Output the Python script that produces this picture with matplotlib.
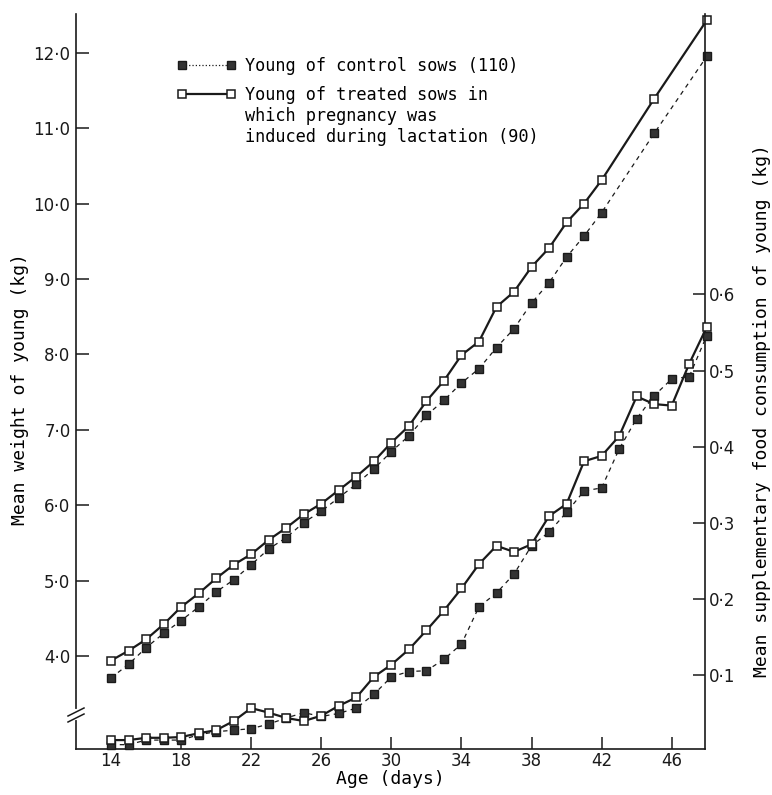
import matplotlib
matplotlib.use("Agg")
import matplotlib.pyplot as plt
from matplotlib.lines import Line2D

plt.rcParams['font.family'] = ['DejaVu Sans']

# ---- data ----
weight_days = list(range(14, 43)) + [45, 48]
weight_control = [3.71, 3.89, 4.11, 4.30, 4.47, 4.65, 4.85, 5.01, 5.21, 5.42,
                  5.57, 5.77, 5.92, 6.10, 6.28, 6.48, 6.71, 6.92, 7.19, 7.39,
                  7.62, 7.81, 8.09, 8.34, 8.68, 8.95, 9.29, 9.57, 9.88, 10.93, 11.95]
weight_treated = [3.94, 4.07, 4.22, 4.42, 4.65, 4.83, 5.03, 5.21, 5.35, 5.54,
                  5.70, 5.88, 6.02, 6.20, 6.38, 6.58, 6.83, 7.05, 7.38, 7.65,
                  7.99, 8.17, 8.63, 8.83, 9.16, 9.41, 9.75, 10.00, 10.31, 11.39, 12.43]

food_days = list(range(14, 49))
food_control = [0.009, 0.009, 0.015, 0.015, 0.015, 0.022, 0.026, 0.028, 0.030, 0.036,
                0.044, 0.051, 0.046, 0.050, 0.057, 0.075, 0.098, 0.105, 0.106, 0.121,
                0.141, 0.190, 0.208, 0.233, 0.270, 0.288, 0.314, 0.342, 0.346, 0.397,
                0.437, 0.467, 0.489, 0.492, 0.546]
food_treated = [0.015, 0.015, 0.018, 0.018, 0.019, 0.024, 0.028, 0.040, 0.057, 0.051,
                0.044, 0.040, 0.047, 0.060, 0.071, 0.098, 0.114, 0.134, 0.159, 0.185,
                0.214, 0.246, 0.270, 0.262, 0.272, 0.309, 0.325, 0.381, 0.388, 0.414,
                0.466, 0.456, 0.454, 0.509, 0.557]

x_ticks = [14, 18, 22, 26, 30, 34, 38, 42, 46]
left_ticks = [4, 5, 6, 7, 8, 9, 10, 11, 12]
left_ticklabels = ['4·0', '5·0', '6·0', '7·0', '8·0', '9·0', '10·0', '11·0', '12·0']
right_ticks = [0.1, 0.2, 0.3, 0.4, 0.5, 0.6]
right_ticklabels = ['0·1', '0·2', '0·3', '0·4', '0·5', '0·6']

label_control = 'Young of control sows (110)'
label_treated = ['Young of treated sows in', 'which pregnancy was',
                 'induced during lactation (90)']

# ---- figure ----
W, H = 772, 795
fig = plt.figure(figsize=(W / 100, H / 100), dpi=100)
fig.patch.set_facecolor('white')
ax = fig.add_axes([76 / W, 1 - 749 / H, (705 - 76) / W, (749 - 14) / H])
ax2 = ax.twinx()

FS = 12
LFS = 13
MONO = 'DejaVu Sans Mono'
ink = '#1a1a1a'
fill = '#333333'

ctrl_style = dict(color=ink, lw=0.9, linestyle=(0, (3.5, 3.5)), marker='s', ms=6,
                  mfc=fill, mec=ink, mew=1.0, clip_on=False, zorder=3)
trt_style = dict(color=ink, lw=1.6, linestyle='-', marker='s', ms=6.3,
                 mfc='white', mec=ink, mew=1.1, clip_on=False, zorder=4)

ax.plot(weight_days, weight_control, **ctrl_style)
ax.plot(weight_days, weight_treated, **trt_style)
ax2.plot(food_days, food_control, **ctrl_style)
ax2.plot(food_days, food_treated, **trt_style)

ax.set_xlim(12, 47.9)
ax.set_ylim(2.767, 12.513)
ax2.set_ylim(0.0033, 0.968)

ax.set_xticks(x_ticks)
ax.set_xticklabels([str(t) for t in x_ticks])
ax.set_yticks(left_ticks)
ax.set_yticklabels(left_ticklabels)
ax2.set_yticks(right_ticks)
ax2.set_yticklabels(right_ticklabels)

for a in (ax, ax2):
    a.spines['top'].set_visible(False)
    for s in a.spines.values():
        s.set_linewidth(1.2)
        s.set_color(ink)
    a.tick_params(direction='in', length=9, width=1.1, colors=ink, labelsize=FS)
ax.spines['right'].set_visible(False)
ax2.spines['left'].set_visible(False)
ax2.spines['bottom'].set_visible(False)
ax.tick_params(axis='y', pad=4)
ax.tick_params(axis='x', pad=2)
ax2.tick_params(axis='y', pad=3)

ax.set_xlabel('Age (days)', fontsize=LFS, family=MONO)
ax.xaxis.set_label_coords(0.5, -0.029)
ax.set_ylabel('Mean weight of young (kg)', fontsize=LFS, family=MONO)
ax.yaxis.set_label_coords(-0.074, 0.49)
ax2.set_ylabel('Mean supplementary food consumption of young (kg)', fontsize=LFS,
               family=MONO)
ax2.yaxis.set_label_coords(1.076, 0.461)

# ---- axis break marks on the left spine ----
def px(x, y):
    return x / W, 1 - y / H

fig.add_artist(Line2D(*zip(px(76, 711), px(76, 718)), transform=fig.transFigure,
                      color='white', lw=3, zorder=10))
for dy in (0, 6):
    fig.add_artist(Line2D(*zip(px(68, 716 + dy), px(84, 708 + dy)),
                          transform=fig.transFigure, color=ink, lw=1.1, zorder=11))

# ---- legend ----
h_ctrl = Line2D([], [], color=ink, lw=0.9, linestyle=':', marker='s', ms=6,
                mfc=fill, mec=ink, mew=1.0)
h_trt = Line2D([], [], color=ink, lw=1.6, linestyle='-', marker='s', ms=6.3,
               mfc='white', mec=ink, mew=1.1)
h_blank = Line2D([], [], linestyle='none', marker=None)

common = dict(frameon=False, prop={'family': MONO, 'size': 12.2}, loc='upper left',
              borderpad=0, borderaxespad=0, handlelength=3.5, handletextpad=0.55,
              numpoints=2)
leg1 = fig.legend([h_ctrl], [label_control], bbox_to_anchor=px(176.7, 57), **common)
leg2 = fig.legend([h_trt, h_blank, h_blank], label_treated,
                  bbox_to_anchor=px(176.7, 86), labelspacing=0.17, **common)

fig.savefig('out.png', dpi=100, facecolor='white')
